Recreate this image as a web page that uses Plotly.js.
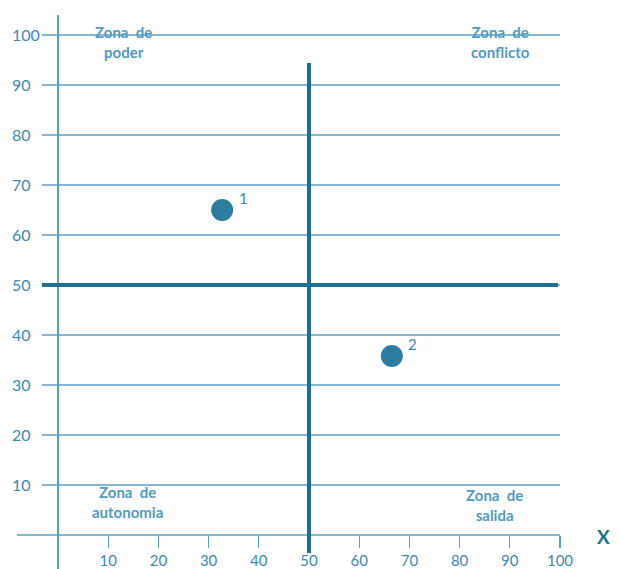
<!DOCTYPE html>
<html><head><meta charset="utf-8">
<script src="https://cdn.plot.ly/plotly-3.0.1.min.js"></script>
<style>html,body{margin:0;padding:0;background:#fff}#chart{width:620px;height:569px}</style>
</head><body><div id="chart"></div>
<script>
// ---- data ----
const xTicks = [10,20,30,40,50,60,70,80,90,100];
const yTicks = [10,20,30,40,50,60,70,80,90,100];
const pointX = [32.7, 66.5];
const pointY = [65, 35.8];
const pointLabels = ['1','2'];
const zoneText = ['Zona\u00a0 de<br>poder','Zona\u00a0 de<br>conflicto','Zona\u00a0 de<br>autonomia','Zona\u00a0 de<br>salida'];
const zoneX = [13.1, 88.2, 13.9, 86.9];
const zoneY = [98.6, 98.6, 6.6, 6.1];
const splitX = 50, splitY = 50;

// ---- styles ----
const thin = '#5aa2c4', thick = '#1d6f94', tickTxt = '#3c8ab2', zoneCol = '#4f9cbf', markCol = '#2c7d9f';
const FONT = 'Lato, "Open Sans", sans-serif';

const W = 620, H = 569, ml = 0, mr = 58, mt = 15, mb = 0;
const xr = [-11.55, 100.4], yr = [-6.8, 104];
const yZeroPaper = (0 - yr[0]) / (yr[1] - yr[0]);
const yAxisPos = 8 / (W - ml - mr);

const shapes = [];
yTicks.forEach(v => shapes.push({type:'line', xref:'x', yref:'y', x0:-3.2, x1:100, y0:v, y1:v, line:{color:thin, width:1.3}, layer:'below'}));
// x-axis baseline
shapes.push({type:'line', xref:'x', yref:'y', x0:-8.2, x1:100, y0:0, y1:0, line:{color:thin, width:1.3}, layer:'below'});
// quadrant split lines
shapes.push({type:'line', xref:'x', yref:'y', x0:-3.2, x1:99.6, y0:splitY, y1:splitY, line:{color:thick, width:4}});
shapes.push({type:'line', xref:'x', yref:'y', x0:splitX, x1:splitX, y0:-3.6, y1:94.4, line:{color:thick, width:4}});

const annotations = [];
zoneText.forEach((t,i) => annotations.push({x:zoneX[i], y:zoneY[i], xref:'x', yref:'y', text:t, showarrow:false,
  font:{family:FONT, size:15, color:zoneCol, weight:'bold'}, align:'center'}));
pointLabels.forEach((t,i) => annotations.push({x:pointX[i], y:pointY[i], xref:'x', yref:'y', text:t, showarrow:false,
  xshift:21, yshift:12, font:{family:FONT, size:15, color:tickTxt}}));
annotations.push({x:612/(W-ml-mr), y:0, xref:'paper', yref:'y', text:'X', showarrow:false, yshift:-1,
  font:{family:FONT, size:19, color:thick, weight:'bold'}});

const trace = {x:pointX, y:pointY, mode:'markers', type:'scatter', hoverinfo:'skip',
  marker:{size:22, color:markCol}, cliponaxis:false};

const layout = {
  width:W, height:H, margin:{l:ml, r:mr, t:mt, b:mb, pad:0},
  paper_bgcolor:'#fff', plot_bgcolor:'#fff', showlegend:false,
  xaxis:{range:xr, anchor:'free', position:yZeroPaper, showgrid:false, zeroline:true, zerolinecolor:thin, zerolinewidth:1.3,
    showline:false, ticks:'outside', ticklen:12, tickcolor:thin, tickwidth:1.3, tickvals:xTicks, ticktext:xTicks.map(String),
    tickfont:{family:FONT, size:15, color:tickTxt}, fixedrange:true},
  yaxis:{range:yr, anchor:'free', position:yAxisPos, showgrid:false, zeroline:false, showline:false, ticks:'',
    ticklabelposition:'inside', tickvals:yTicks, ticktext:yTicks.map(String),
    tickfont:{family:FONT, size:16, color:tickTxt}, fixedrange:true},
  shapes:shapes, annotations:annotations
};
Plotly.newPlot('chart', [trace], layout, {displayModeBar:false, staticPlot:true});
</script></body></html>
